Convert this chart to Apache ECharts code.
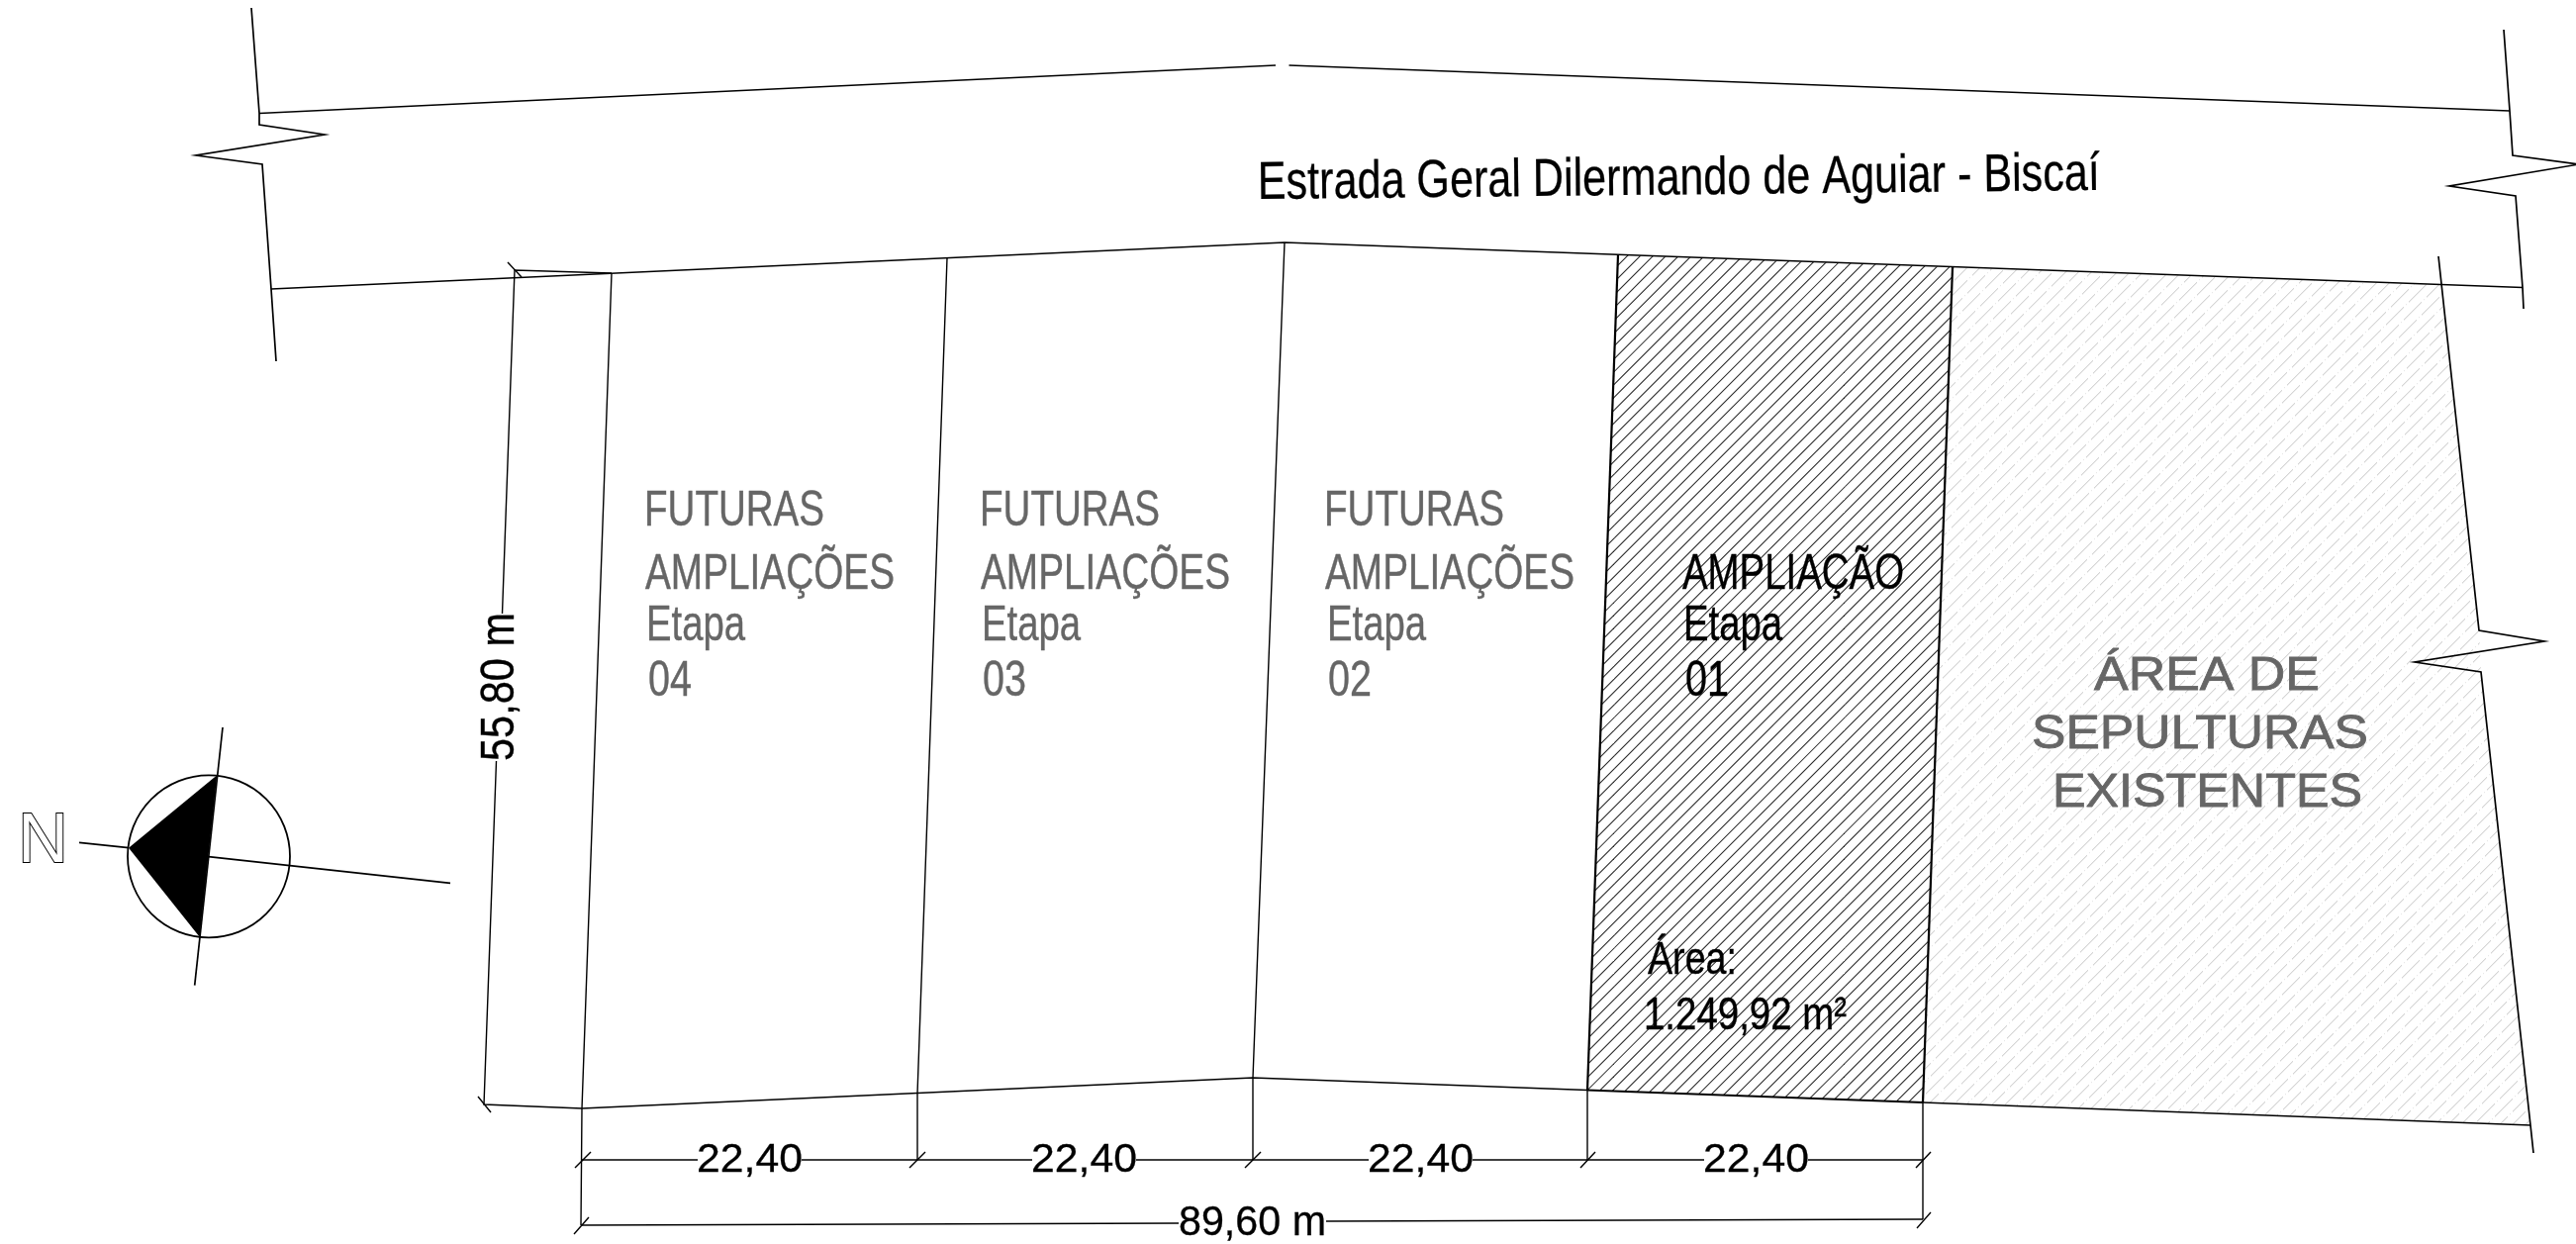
<!DOCTYPE html>
<html><head><meta charset="utf-8">
<style>html,body{margin:0;padding:0;background:#fff}#c{width:2603px;height:1257px}</style>
<script src="https://cdn.jsdelivr.net/npm/echarts@6/dist/echarts.min.js"></script>
</head><body><div id="c"></div>
<script>
// ---- survey geometry (image-pixel scale) ----
const roadTopWest = [[262,114.5],[1289,66]];
const roadTopEast = [[1302.5,66],[2536,112]];
const roadBottom = [[274,292],[1298,245],[2549,290.5]];
const lotBottomWest = [[588,1120],[1266,1089],[1604,1101.5]];
const lotBottomMid = [[1604,1101.5],[1943,1114]];
const lotBottomEast = [[1943,1114],[2557,1137]];
const breakWest = [[254,8],[262,114.5],[262,126],[328,136],[198,157],[265,166],[274,292],[279,365]];
const breakEast = [[2530,30],[2536,112],[2539,157],[2606,166],[2475,188],[2542,198],[2549,290.5],[2550,312]];
const breakSouthEast = [[2464,259],[2505,637],[2571,648],[2440,669],[2507,679],[2557,1137],[2560,1165]];
const lot4Edge = [[618,276],[588,1120],[587,1238]];
const lot3Edge = [[957,261],[927,1105],[927,1172]];
const lot2Edge = [[1298,245],[1266,1089],[1266,1172]];
const lot1West = [[1635,257.5],[1604,1101.5]];
const lot1East = [[1973,270],[1943,1114]];
const lot1WestExt = [[1604,1101.5],[1604,1172]];
const lot1EastExt = [[1943,1114],[1943,1232]];
const dimSideA = [[618,276],[520,273],[507.5,620]];
const dimSideB = [[501.5,769],[489,1116],[588,1120]];
const dimSideTicks = [[[513,265],[527,280]],[[483,1108],[496,1124]]];
const dimLots = [[[587,1172],[705,1172]],[[810,1172],[1043,1172]],[[1148,1172],[1383,1172]],[[1488,1172],[1722,1172]],[[1827,1172],[1943,1172]]];
const dimLotTicks = [[[581,1180],[597,1164]],[[919,1180],[935,1164]],[[1258,1180],[1274,1164]],[[1597,1180],[1612,1164]],[[1936,1180],[1951,1164]]];
const dimTotal = [[[587,1238],[1191,1236]],[[1340,1234],[1943,1232]]];
const dimTotalTicks = [[[580,1247],[595,1230]],[[1937,1241],[1951,1225]]];
const northAxisA = [[225,735],[196.7,995.7]];
const northAxisB = [[80,851.3],[130,856.7]];
const northAxisC = [[210.7,865.7],[455,892.3]];
const northArrow = [[219.3,783.3],[130,856.7],[201.7,946.7]];
const northCircle = [211,865.3,82];
const lot1Area = [[1635,257.5],[1973,270],[1943,1114],[1604,1101.5]];
const graveArea = [[1973,270],[2466,287.5],[2505,637],[2507,679],[2557,1137],[1943,1114]];

// ---- text ----
const roadName = 'Estrada Geral Dilermando de Aguiar - Biscaí';
const futureLots = [['FUTURAS','AMPLIAÇÕES','Etapa','04'],['FUTURAS','AMPLIAÇÕES','Etapa','03'],['FUTURAS','AMPLIAÇÕES','Etapa','02']];
const currentLot = ['AMPLIAÇÃO','Etapa','01','Área:','1.249,92 m²'];
const graveLabel = ['ÁREA DE','SEPULTURAS','EXISTENTES'];
const lotDims = ['22,40','22,40','22,40','22,40'];
const totalDim = '89,60 m';
const sideDim = '55,80 m';
const northLetter = 'N';

// ---- text layout: left, baseline, width, cap height ----
const GREY = '#666666', BLACK = '#000000';
const texts = [];
function put(t,x,b,w,cap,color,rot,opts){texts.push(Object.assign({t,x,b,w,cap,color,rot:rot||0},opts||{}));}
put(roadName,1271,201.5,851,37,BLACK,0.0107,{bold:.3});
const futureX = [[651,652,653,655],[990,991,992,993],[1338,1339,1341,1342]];
const futureB = [531,595,647,703], futureW = [182,252,100,44];
futureLots.forEach((col,i)=>col.forEach((s,j)=>put(s,futureX[i][j],futureB[j],futureW[j],34,GREY,0,{bold:.4})));
put(currentLot[0],1700,595,224,34,BLACK,0,{bold:.4});
put(currentLot[1],1701,647,100,34,BLACK,0,{bold:.4});
put(currentLot[2],1703,703,44,34,BLACK,0,{bold:.4});
put(currentLot[3],1665,984,90,32,BLACK,0,{bold:.4});
put(currentLot[4],1661,1040,205,32,BLACK,0,{bold:.4});
put(graveLabel[0],2116,697,228,33,GREY,0,{bold:.8});
put(graveLabel[1],2053,756,340,33,GREY,0,{bold:.8});
put(graveLabel[2],2074,815,313,33,GREY,0,{bold:.8});
[704,1042,1382,1721].forEach((x,i)=>put(lotDims[i],x,1184,107,28,BLACK,0,{bold:.3}));
put(totalDim,1191,1248,149,29,BLACK,0,{bold:.3});
put(sideDim,519.5,769,150,33,BLACK,Math.PI/2,{bold:.4});
put(northLetter,18,871.7,51,49,'#ffffff',0,{outline:'#000000'});

const FONT = '"Liberation Sans",Arial,sans-serif';
const mctx = document.createElement('canvas').getContext('2d');
function fit(o){
  const fs = o.cap/0.688;
  mctx.font = fs+'px '+FONT;
  return {fs, sx:o.w/mctx.measureText(o.t).width};
}

// ---- hatch tiles ----
function hatchTile(){
  const T=233,n=18,p=T/n,c=document.createElement('canvas');c.width=c.height=T;
  const g=c.getContext('2d');g.strokeStyle='#262626';g.lineWidth=1.05;
  const phase=0.23;
  for(let k=-2;k<n*2+3;k++){const s=phase+k*p;g.beginPath();g.moveTo(s+2,-2);g.lineTo(s-T-2,T+2);g.stroke();}
  return c;
}
function graveTile(){
  const T=299,c=document.createElement('canvas');c.width=c.height=T;
  const g=c.getContext('2d');const d=g.createImageData(T,T);
  const mod=(a,m)=>((a%m)+m)%m;
  for(let y=0;y<T;y++)for(let x=0;x<T;x++){
    const w=x+y-8, u=mod(w,13), L=Math.floor(w/13), s=mod(x-L*18-8,23);
    let v=255;
    if(u===0||u===1){
      if(s>=3&&s<21) v=u===0?214:236;
      else if(s===0) v=u===0?232:250;
    }
    const i=(y*T+x)*4;d.data[i]=d.data[i+1]=d.data[i+2]=v;d.data[i+3]=255;
  }
  g.putImageData(d,0,0);return c;
}
const hatchFill={image:hatchTile(),repeat:'repeat'};
const graveFill={image:graveTile(),repeat:'repeat'};

function polySeries(points,style,z){
  return {type:'custom',coordinateSystem:'cartesian2d',clip:false,silent:true,z,animation:false,
    data:[[points[0][0],points[0][1]]],
    renderItem:(p,api)=>({type:'polygon',shape:{points:points.map(q=>api.coord(q))},style})};
}
function lineSeries(pts,width,color){
  return {type:'line',data:pts,symbol:'none',silent:true,animation:false,z:5,clip:false,
    lineStyle:{width,color:color||'#000',join:'miter'}};
}
const thick=[lotBottomMid,lot1West,lot1East].map(p=>lineSeries(p,2.2));
const road=[roadTopWest,roadTopEast,roadBottom,lotBottomWest,lotBottomEast].map(p=>lineSeries(p,1.7));
const medium=[breakWest,breakEast,breakSouthEast,northAxisA,northAxisB,northAxisC].map(p=>lineSeries(p,1.7));
const thin=[lot4Edge,lot3Edge,lot2Edge,lot1WestExt,lot1EastExt,dimSideA,dimSideB,...dimSideTicks,...dimLots,...dimLotTicks,...dimTotal,...dimTotalTicks].map(p=>lineSeries(p,1.4));

const series=[
  polySeries(graveArea,{fill:graveFill},1),
  polySeries(lot1Area,{fill:hatchFill},2),
  ...thin,...medium,...road,...thick,
  {type:'custom',coordinateSystem:'cartesian2d',clip:false,silent:true,animation:false,z:6,
   data:[northCircle],
   renderItem:(p,api)=>{const c=api.coord([northCircle[0],northCircle[1]]);
     return {type:'circle',shape:{cx:c[0],cy:c[1],r:api.size([northCircle[2],0])[0]},style:{fill:'none',stroke:'#000',lineWidth:1.8}};}},
  polySeries(northArrow,{fill:'#000'},7),
  {type:'custom',coordinateSystem:'cartesian2d',clip:false,silent:true,animation:false,z:10,
   data:texts.map((o,i)=>[o.x,o.b,i]),
   renderItem:(p,api)=>{
     const o=texts[api.value(2)],f=fit(o),c=api.coord([api.value(0),api.value(1)]);
     return {type:'text',x:c[0],y:c[1],rotation:o.rot,scaleX:f.sx,scaleY:1,originX:0,originY:0,
       style:{text:o.t,x:0,y:-0.285*f.fs,font:f.fs+'px '+FONT,fill:o.color,textAlign:'left',textVerticalAlign:'middle',
         stroke:o.outline||(o.bold?o.color:null),lineWidth:o.outline?2:(o.bold||0)}};
   }}
];

const chart=echarts.init(document.getElementById('c'),null,{renderer:'canvas',width:2603,height:1257});
chart.setOption({
  backgroundColor:'#ffffff',animation:false,
  grid:{left:0,right:0,top:0,bottom:0},
  xAxis:{type:'value',min:0,max:2603,show:false},
  yAxis:{type:'value',min:0,max:1257,inverse:true,show:false},
  tooltip:{show:false},
  series
});
</script></body></html>
